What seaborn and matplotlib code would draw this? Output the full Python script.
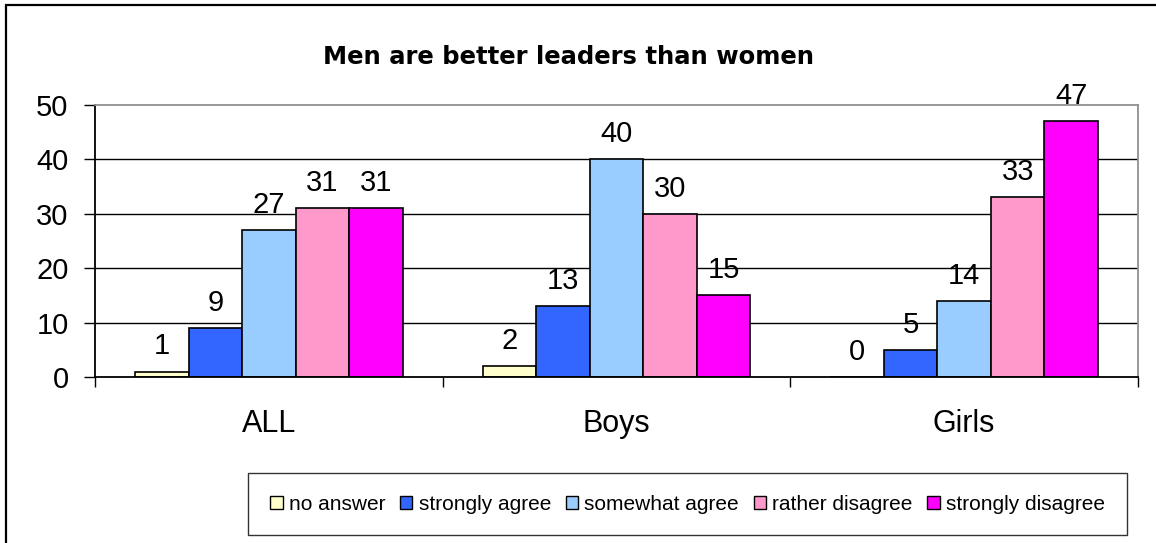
import pandas as pd
import matplotlib.pyplot as plt
import matplotlib.patches as mpatches
import seaborn as sns

# survey answers, percent per group
groups = ["ALL", "Boys", "Girls"]
answers = ["no answer", "strongly agree", "somewhat agree", "rather disagree", "strongly disagree"]
no_answer = [1, 2, 0]
strongly_agree = [9, 13, 5]
somewhat_agree = [27, 40, 14]
rather_disagree = [31, 30, 33]
strongly_disagree = [31, 15, 47]
colors = ["#FFFFCC", "#3366FF", "#99CCFF", "#FF99CC", "#FF00FF"]

series = [no_answer, strongly_agree, somewhat_agree, rather_disagree, strongly_disagree]
rows = []
for ans, vals in zip(answers, series):
    for g, v in zip(groups, vals):
        rows.append({"group": g, "answer": ans, "value": v})
df = pd.DataFrame(rows)

sns.set_theme(style="white")
plt.rcParams["font.family"] = ["Liberation Sans", "DejaVu Sans"]
plt.rcParams.update({"text.color": "black", "xtick.color": "black",
                     "ytick.color": "black", "axes.labelcolor": "black"})

fig = plt.figure(figsize=(11.56, 5.43), dpi=100)
ax = fig.add_axes([95 / 1156, 1 - 377 / 543, (1138 - 95) / 1156, (377 - 105) / 543])

sns.barplot(data=df, x="group", y="value", hue="answer", hue_order=answers,
            order=groups, palette=colors, width=0.77, gap=0,
            edgecolor="black", linewidth=1.2, saturation=1, legend=False, ax=ax)

for cont in ax.containers:
    ax.bar_label(cont, fmt="%d", padding=8, fontsize=21)

ax.set_ylim(0, 50)
ax.set_xlim(-0.5, 2.5)
ax.set_yticks(range(0, 51, 10))
ax.set_xlabel("")
ax.set_ylabel("")
for y in range(10, 50, 10):
    ax.axhline(y, color="black", linewidth=1, zorder=0)

ax.spines["left"].set_color("black")
ax.spines["bottom"].set_color("black")
ax.spines["top"].set_color("#909090")
ax.spines["right"].set_color("#909090")
for s in ax.spines.values():
    s.set_linewidth(1.3)

ax.tick_params(axis="y", labelsize=21, length=8, width=1, direction="out", left=True, pad=11)
ax.tick_params(axis="x", which="major", labelsize=22, length=0, pad=23)
ax.set_xticks([-0.5, 0.5, 1.5, 2.5], minor=True)
ax.tick_params(axis="x", which="minor", length=7, width=1, direction="out", bottom=True)

fig.text(0.492, 1 - 57 / 543, "Men are better leaders than women", ha="center", va="center",
         fontsize=17.5, fontweight="bold", family=["DejaVu Sans"])

handles = [mpatches.Patch(facecolor=c, edgecolor="black", linewidth=1) for c in colors]
leg = fig.legend(handles, answers, loc="center", bbox_to_anchor=(687.5 / 1156, 1 - 504 / 543),
                 ncol=5, frameon=True, fancybox=False, edgecolor="black", fontsize=15,
                 handlelength=0.6, handleheight=0.6, handletextpad=0.3, columnspacing=0.7,
                 borderpad=1.05, borderaxespad=0)
leg.get_frame().set_linewidth(1)

fig.patches.append(mpatches.Rectangle((6 / 1156, -0.05), 1.2, 1.05 - 5 / 543, transform=fig.transFigure,
                                      fill=False, edgecolor="black", linewidth=1.6))

fig.savefig("out.png", dpi=100)
